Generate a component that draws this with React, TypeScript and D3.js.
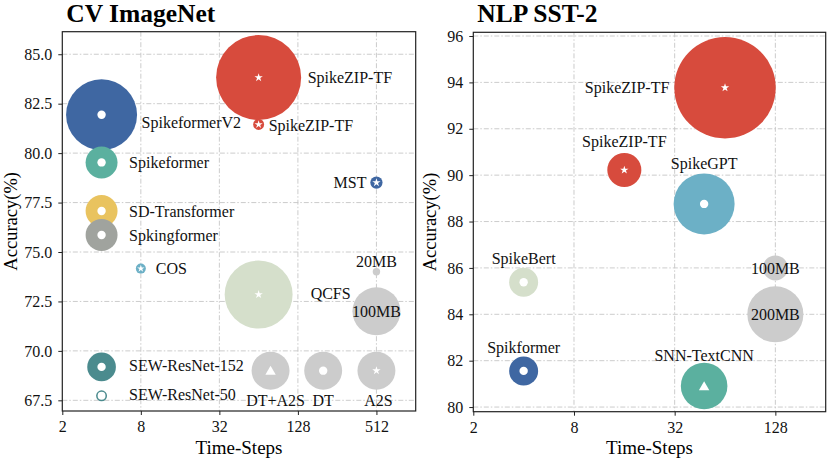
import * as d3 from 'd3';
import React, { useEffect, useRef } from 'react';

type Mark = 'star' | 'circle' | 'triangle' | 'none';

// ---- CV ImageNet ----
const cvNames = ['SpikeZIP-TF', 'SpikeZIP-TF', 'SpikeformerV2', 'Spikeformer', 'SD-Transformer', 'Spkingformer', 'COS', 'MST', 'QCFS', 'SEW-ResNet-152', 'SEW-ResNet-50', '20MB', '100MB', 'DT+A2S', 'DT', 'A2S'];
const cvSteps = [64, 64, 4, 4, 4, 4, 8, 512, 64, 4, 4, 512, 512, 79, 200, 512];
const cvAcc = [83.82, 81.45, 81.94, 79.53, 77.07, 75.86, 74.16, 78.51, 72.85, 69.19, 67.73, 74.0, 72.0, 69.0, 69.0, 69.0];
const cvSize = [72.3, 1.2, 50.4, 10.2, 10.2, 10.2, 1.0, 1.5, 46.2, 8.2, 1.2, 0.55, 23, 14.4, 14.4, 14.4];
const cvMarks: Mark[] = ['star', 'star', 'circle', 'circle', 'circle', 'circle', 'star', 'star', 'star', 'circle', 'circle', 'none', 'none', 'triangle', 'circle', 'star'];
const cvYTicks = [67.5, 70, 72.5, 75, 77.5, 80, 82.5, 85];
const cvXTicks = [2, 8, 32, 128, 512];

// ---- NLP SST-2 ----
const nlpNames = ['SpikeZIP-TF', 'SpikeZIP-TF', 'SpikeGPT', 'SpikeBert', 'Spikformer', 'SNN-TextCNN', '100MB', '200MB'];
const nlpSteps = [64, 16, 48, 4, 4, 48, 128, 128];
const nlpAcc = [93.77, 90.22, 88.76, 85.38, 81.56, 80.91, 86.0, 84.0];
const nlpSize = [102.8, 11.6, 37.2, 8.4, 8.4, 21.7, 6.25, 31.4];
const nlpMarks: Mark[] = ['star', 'star', 'circle', 'circle', 'circle', 'triangle', 'none', 'none'];
const nlpYTicks = [80, 82, 84, 86, 88, 90, 92, 94, 96];
const nlpXTicks = [2, 8, 32, 128];

// colours and label placement (styling only)
const RED = '#d74b3d';
const BLUE = '#3f67a2';
const TEAL = '#5bb09f';
const YELLOW = '#e9c35f';
const DGRAY = '#a0a39e';
const LBLUE = '#6cb0c6';
const PGREEN = '#d5dfcb';
const DTEAL = '#4b8b8e';
const LGRAY = '#cccccc';

const cvColors = [RED, RED, BLUE, TEAL, YELLOW, DGRAY, LBLUE, BLUE, PGREEN, DTEAL, DTEAL, LGRAY, LGRAY, LGRAY, LGRAY, LGRAY];
const cvLabels: [string, number, number][] = [
  ['start', 49, 0], ['start', 10, 1], ['start', 40, 8], ['start', 27.5, 0], ['start', 27.5, 0], ['start', 27.5, 0],
  ['start', 15, 0], ['end', -10, 0], ['start', 52, -1], ['start', 27.5, -1], ['start', 27.5, -1],
  ['middle', 0, -10.5], ['middle', 0, 0], ['middle', 5, 30], ['middle', 0, 30], ['middle', 2, 30],
];
const nlpColors = [RED, RED, LBLUE, PGREEN, BLUE, TEAL, LGRAY, LGRAY];
const nlpLabels: [string, number, number][] = [
  ['end', -55.7, 0], ['middle', 0, -28.3], ['middle', 0, -40.7], ['middle', 0, -24], ['middle', 0, -23.7],
  ['middle', 0, -31], ['middle', 0, 0], ['middle', 0, 0],
];

const FONT = "'Liberation Serif', 'Times New Roman', serif";
const rScale = d3.scaleSqrt().domain([0, 100]).range([0, 50]);

interface PanelSpec {
  title: string;
  names: string[];
  steps: number[];
  acc: number[];
  sizes: number[];
  marks: Mark[];
  colors: string[];
  labels: [string, number, number][];
  xDomain: [number, number];
  yDomain: [number, number];
  xTicks: number[];
  yTicks: number[];
  yFormat: string;
  box: { left: number; right: number; top: number; bottom: number };
  yLabelX: number;
}

function drawPanel(root: d3.Selection<SVGSVGElement, unknown, null, undefined>, p: PanelSpec) {
  const { box } = p;
  const g = root.append('g');
  const x = d3.scaleLog().base(2).domain(p.xDomain).range([box.left, box.right]);
  const y = d3.scaleLinear().domain(p.yDomain).range([box.bottom, box.top]);

  // grid
  const grid = g.append('g').attr('stroke', '#c6c6c6').attr('stroke-width', 0.9).attr('stroke-dasharray', '5,2,1.5,2');
  grid.selectAll('line.gx')
    .data(p.xTicks.filter((t) => x(t) > box.left + 1))
    .join('line')
    .attr('x1', (d) => x(d)).attr('x2', (d) => x(d))
    .attr('y1', box.top).attr('y2', box.bottom);
  grid.selectAll('line.gy')
    .data(p.yTicks)
    .join('line')
    .attr('x1', box.left).attr('x2', box.right)
    .attr('y1', (d) => y(d)).attr('y2', (d) => y(d));

  // bubbles
  const idx = d3.range(p.names.length);
  const node = g.append('g')
    .selectAll('g')
    .data(idx)
    .join('g')
    .attr('transform', (i) => `translate(${x(p.steps[i])},${y(p.acc[i])})`);
  node.append('circle').attr('r', (i) => rScale(p.sizes[i])).attr('fill', (i) => p.colors[i]);
  node.each(function (i) {
    const r = rScale(p.sizes[i]);
    const sel = d3.select(this);
    if (p.marks[i] === 'circle') {
      sel.append('circle').attr('r', Math.min(4.2, r * 0.72)).attr('fill', '#fff');
    } else if (p.marks[i] === 'star') {
      const R = Math.min(4.4, r * 0.78);
      sel.append('path').attr('d', d3.symbol().type(d3.symbolStar).size((R * R) / 0.8908)()!).attr('fill', '#fff');
    } else if (p.marks[i] === 'triangle') {
      const R = Math.min(6, r * 0.5);
      sel.append('path')
        .attr('d', d3.symbol().type(d3.symbolTriangle).size((R / 2) * (R / 2) * 3 * Math.sqrt(3))()!)
        .attr('transform', `translate(0,${R * 0.2})`)
        .attr('fill', '#fff');
    }
  });

  // labels
  g.append('g')
    .selectAll('text')
    .data(idx)
    .join('text')
    .attr('x', (i) => x(p.steps[i]) + p.labels[i][1])
    .attr('y', (i) => y(p.acc[i]) + p.labels[i][2])
    .attr('dy', '0.35em')
    .attr('text-anchor', (i) => p.labels[i][0])
    .attr('font-family', FONT)
    .attr('font-size', 16)
    .attr('fill', '#111')
    .text((i) => p.names[i]);

  // axes
  const xAxis = g.append('g')
    .attr('transform', `translate(0,${box.bottom})`)
    .call(d3.axisBottom(x).tickValues(p.xTicks).tickFormat(d3.format('d')).tickSize(4).tickPadding(6));
  const yAxis = g.append('g')
    .attr('transform', `translate(${box.left},0)`)
    .call(d3.axisLeft(y).tickValues(p.yTicks).tickFormat(d3.format(p.yFormat)).tickSize(4).tickPadding(6));
  [xAxis, yAxis].forEach((a) => {
    a.select('.domain').remove();
    a.attr('font-family', FONT).attr('font-size', 16);
    a.selectAll('line').attr('stroke', '#222');
    a.selectAll('text').attr('fill', '#111');
  });

  // frame
  g.append('rect')
    .attr('x', box.left).attr('y', box.top)
    .attr('width', box.right - box.left).attr('height', box.bottom - box.top)
    .attr('fill', 'none').attr('stroke', '#222').attr('stroke-width', 1.2);

  // titles
  g.append('text')
    .attr('x', box.left + 4).attr('y', 22)
    .attr('font-family', FONT).attr('font-size', 25.5).attr('font-weight', 'bold')
    .text(p.title);
  g.append('text')
    .attr('x', (box.left + box.right) / 2).attr('y', 454)
    .attr('text-anchor', 'middle')
    .attr('font-family', FONT).attr('font-size', 19)
    .text('Time-Steps');
  g.append('text')
    .attr('transform', `translate(${p.yLabelX},${(box.top + box.bottom) / 2}) rotate(-90)`)
    .attr('text-anchor', 'middle')
    .attr('font-family', FONT).attr('font-size', 18.5)
    .text('Accuracy(%)');
}

const App: React.FC = () => {
  const ref = useRef<SVGSVGElement | null>(null);

  useEffect(() => {
    if (!ref.current) return;
    const svg = d3.select(ref.current);
    svg.selectAll('*').remove();

    drawPanel(svg, {
      title: 'CV ImageNet',
      names: cvNames, steps: cvSteps, acc: cvAcc, sizes: cvSize, marks: cvMarks,
      colors: cvColors, labels: cvLabels,
      xDomain: [2, 1024], yDomain: [66.96, 86.14],
      xTicks: cvXTicks, yTicks: cvYTicks, yFormat: '.1f',
      box: { left: 62.3, right: 415.7, top: 31.7, bottom: 411 },
      yLabelX: 16.5,
    });
    drawPanel(svg, {
      title: 'NLP SST-2',
      names: nlpNames, steps: nlpSteps, acc: nlpAcc, sizes: nlpSize, marks: nlpMarks,
      colors: nlpColors, labels: nlpLabels,
      xDomain: [2, 256], yDomain: [79.8, 96.16],
      xTicks: nlpXTicks, yTicks: nlpYTicks, yFormat: 'd',
      box: { left: 473.3, right: 825.7, top: 32.3, bottom: 411.7 },
      yLabelX: 436,
    });
  }, []);

  return (
    <svg
      ref={ref}
      width={830}
      height={466}
      style={{ position: 'absolute', left: 0, top: 0, background: '#fff' }}
    />
  );
};

export default App;
